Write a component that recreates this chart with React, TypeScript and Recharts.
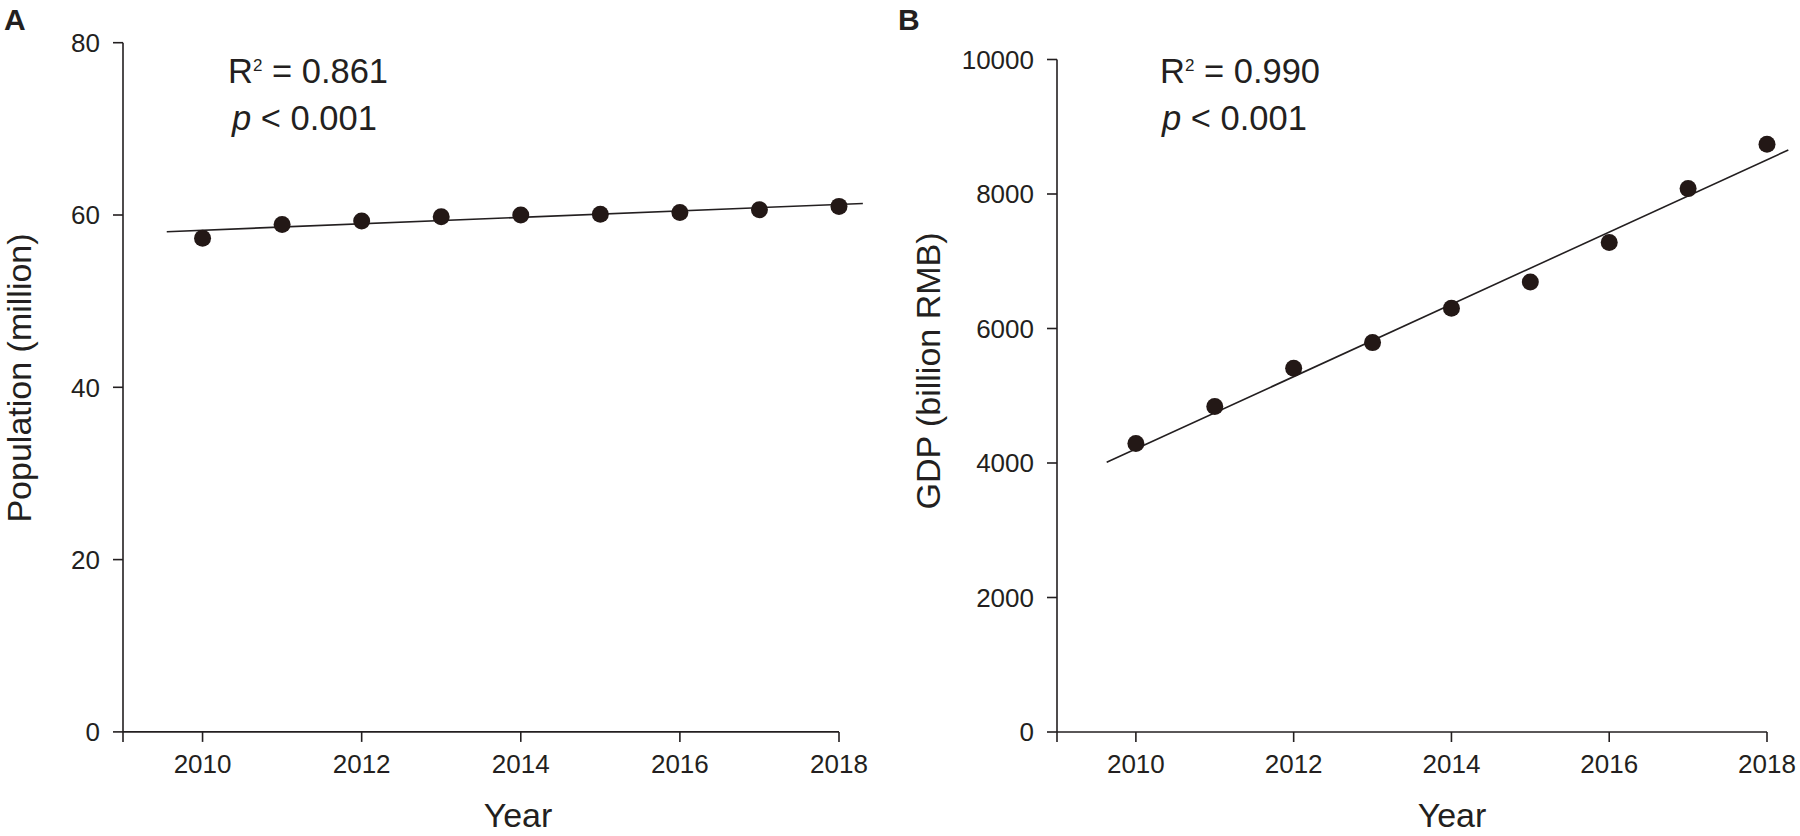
import { ScatterChart, Scatter, XAxis, YAxis, ReferenceLine } from "recharts";

const years = [2010, 2011, 2012, 2013, 2014, 2015, 2016, 2017, 2018];
const population = [57.3, 58.9, 59.3, 59.8, 60.0, 60.1, 60.3, 60.6, 61.0];
const gdp = [4290, 4840, 5410, 5790, 6300, 6690, 7280, 8080, 8740];

// end points of the fitted regression lines
const popFit = [
  { year: 2009.55, value: 58.06 },
  { year: 2018.3, value: 61.34 },
];
const gdpFit = [
  { year: 2009.63, value: 4010 },
  { year: 2018.27, value: 8654 },
];

const xTicks = [2009, 2010, 2012, 2014, 2016, 2018];
const popTicks = [0, 20, 40, 60, 80];
const gdpTicks = [0, 2000, 4000, 6000, 8000, 10000];

const INK = "#231f20";
const DOT = "#231816";
const FONT = "'Liberation Sans', Arial, sans-serif";

const popData = years.map((year, i) => ({ year, value: population[i] }));
const gdpData = years.map((year, i) => ({ year, value: gdp[i] }));

const Dot = (props: any) => {
  if (props.cx == null || props.cy == null) return null;
  return <circle cx={props.cx} cy={props.cy} r={8.5} fill={DOT} />;
};

const axisLine = { stroke: INK, strokeWidth: 1.6 };
const tickStyle = { fill: INK, fontSize: 26, fontFamily: FONT };

interface PanelProps {
  data: { year: number; value: number }[];
  fit: { year: number; value: number }[];
  yDomain: [number, number];
  yTicks: number[];
  margin: { top: number; right: number; bottom: number; left: number };
  yWidth: number;
}

const Panel = ({ data, fit, yDomain, yTicks, margin, yWidth }: PanelProps) => (
  <ScatterChart width={900} height={836} margin={margin}>
    <XAxis
      type="number"
      dataKey="year"
      domain={[2009, 2018]}
      ticks={xTicks}
      tickFormatter={(v) => (v === 2009 ? "" : String(v))}
      axisLine={axisLine}
      tickLine={axisLine}
      tickSize={10}
      tickMargin={13}
      tick={tickStyle}
      height={60}
    />
    <YAxis
      type="number"
      dataKey="value"
      domain={yDomain}
      ticks={yTicks}
      axisLine={axisLine}
      tickLine={axisLine}
      tickSize={10}
      tickMargin={13}
      tick={tickStyle}
      width={yWidth}
    />
    <ReferenceLine
      segment={[
        { x: fit[0].year, y: fit[0].value },
        { x: fit[1].year, y: fit[1].value },
      ]}
      stroke={INK}
      strokeWidth={1.6}
      ifOverflow="visible"
    />
    <Scatter data={data} shape={Dot} isAnimationActive={false} />
  </ScatterChart>
);

export default function App() {
  return (
    <div
      style={{
        position: "absolute",
        left: 0,
        top: 0,
        width: 1800,
        height: 836,
        background: "#fff",
        fontFamily: FONT,
      }}
    >
      <div style={{ position: "absolute", left: 0, top: 0 }}>
        <Panel
          data={popData}
          fit={popFit}
          yDomain={[0, 80]}
          yTicks={popTicks}
          margin={{ top: 42.7, right: 61, bottom: 44.1, left: 43 }}
          yWidth={80}
        />
      </div>
      <div style={{ position: "absolute", left: 900, top: 0 }}>
        <Panel
          data={gdpData}
          fit={gdpFit}
          yDomain={[0, 10000]}
          yTicks={gdpTicks}
          margin={{ top: 59.5, right: 33, bottom: 44, left: 57 }}
          yWidth={100}
        />
      </div>
      <svg
        width={1800}
        height={836}
        style={{ position: "absolute", left: 0, top: 0, pointerEvents: "none" }}
        fontFamily={FONT}
        fill={INK}
      >
        <text x={4} y={30} fontSize={30} fontWeight="bold">A</text>
        <text x={898} y={30} fontSize={30} fontWeight="bold">B</text>

        <text x={228} y={83} fontSize={34.5}>
          R<tspan dy={-12} fontSize={17}>2</tspan>
          <tspan dy={12}> = 0.861</tspan>
        </text>
        <text x={232} y={130} fontSize={34.5}>
          <tspan fontStyle="italic">p</tspan> &lt; 0.001
        </text>
        <text x={1160} y={83} fontSize={34.5}>
          R<tspan dy={-12} fontSize={17}>2</tspan>
          <tspan dy={12}> = 0.990</tspan>
        </text>
        <text x={1162} y={130} fontSize={34.5}>
          <tspan fontStyle="italic">p</tspan> &lt; 0.001
        </text>

        <text
          x={31}
          y={378}
          fontSize={34}
          textAnchor="middle"
          transform="rotate(-90 31 378)"
        >
          Population (million)
        </text>
        <text
          x={940}
          y={371}
          fontSize={34}
          textAnchor="middle"
          transform="rotate(-90 940 371)"
        >
          GDP (billion RMB)
        </text>
        <text x={518} y={827} fontSize={34} textAnchor="middle">Year</text>
        <text x={1452} y={827} fontSize={34} textAnchor="middle">Year</text>
      </svg>
    </div>
  );
}
